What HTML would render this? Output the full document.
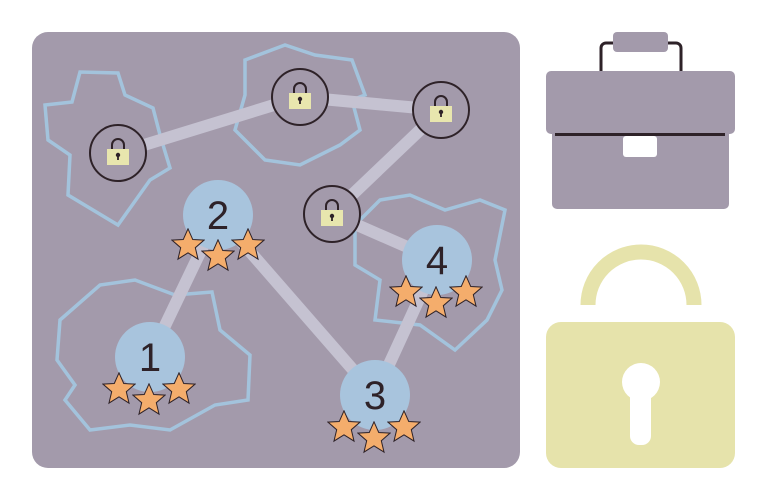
<!DOCTYPE html>
<html><head><style>html,body{margin:0;padding:0;background:#fff}svg{display:block}</style></head><body>
<svg width="767" height="500" viewBox="0 0 767 500" xmlns="http://www.w3.org/2000/svg">
<defs>
<symbol id="star" viewBox="-10 -10 20 20"><polygon points="0,-9.5 2.8,-3.2 9.5,-2.9 4.3,1.6 5.9,8.3 0,4.6 -5.9,8.3 -4.3,1.6 -9.5,-2.9 -2.8,-3.2" fill="#f4ad6c" stroke="#2e2228" stroke-width="0.6"/></symbol>
<g id="lk"><circle r="28" fill="#a39aab" stroke="#2e2228" stroke-width="2"/><path d="M-6,-4 v-4 a6,6 0 0 1 12,0 v4" fill="none" stroke="#2e2228" stroke-width="2"/><rect x="-11" y="-4" width="22" height="16" fill="#e8e6ae"/><circle cx="0" cy="2" r="2.2" fill="#2e2228"/><rect x="-0.9" y="2" width="1.8" height="5" fill="#2e2228"/></g>
</defs>
<rect x="32" y="32" width="488" height="436" rx="16" fill="#a39aab"/>
<g fill="none" stroke="#a3c3dc" stroke-width="3.5">
<polygon points="45,105 72,102 80,72 118,73 125,95 153,108 160,135 170,168 150,180 118,225 68,195 70,155 48,140"/>
<polygon points="245,60 285,45 315,55 352,60 365,95 352,100 360,130 340,145 300,165 265,160 235,130 245,95"/>
<polygon points="355,225 380,200 410,195 445,210 480,200 505,210 495,260 502,290 487,320 455,350 420,325 375,320 380,280 355,265"/>
<polygon points="60,320 100,285 135,280 175,295 212,292 220,330 250,355 248,400 215,405 170,430 130,425 90,430 65,400 75,385 57,360"/>
</g>
<g stroke="#c5c2d1" stroke-width="12" stroke-linecap="round">
<line x1="118" y1="153" x2="300" y2="97"/><line x1="300" y1="97" x2="441" y2="110"/><line x1="441" y1="110" x2="332" y2="214"/><line x1="332" y1="214" x2="437" y2="260"/>
<line x1="218" y1="215" x2="150" y2="357"/><line x1="218" y1="215" x2="375" y2="395"/><line x1="375" y1="395" x2="437" y2="260"/>
</g>
<use href="#lk" x="118" y="153"/><use href="#lk" x="300" y="97"/><use href="#lk" x="441" y="110"/><use href="#lk" x="332" y="214"/>
<g font-family="Liberation Sans, sans-serif" font-size="40" fill="#2e2228" text-anchor="middle">
<circle cx="218" cy="215" r="35" fill="#a8c4dd"/><text x="218" y="229">2</text>
<circle cx="437" cy="260" r="35" fill="#a8c4dd"/><text x="437" y="274">4</text>
<circle cx="150" cy="357" r="35" fill="#a8c4dd"/><text x="150" y="371">1</text>
<circle cx="375" cy="395" r="35" fill="#a8c4dd"/><text x="375" y="409">3</text>
</g>
<g>
<use href="#star" x="171" y="228" width="34" height="34"/><use href="#star" x="201" y="239" width="34" height="34"/><use href="#star" x="231" y="228" width="34" height="34"/>
<use href="#star" x="389" y="275" width="34" height="34"/><use href="#star" x="419" y="286" width="34" height="34"/><use href="#star" x="449" y="275" width="34" height="34"/>
<use href="#star" x="102" y="372" width="34" height="34"/><use href="#star" x="132" y="383" width="34" height="34"/><use href="#star" x="162" y="372" width="34" height="34"/>
<use href="#star" x="327" y="410" width="34" height="34"/><use href="#star" x="357" y="421" width="34" height="34"/><use href="#star" x="387" y="410" width="34" height="34"/>
</g>
<path d="M601,72 V48 a5,5 0 0 1 5,-5 H676 a5,5 0 0 1 5,5 V72" fill="none" stroke="#2e2228" stroke-width="3"/>
<rect x="613" y="32" width="55" height="20" rx="4" fill="#a39aab"/>
<rect x="552" y="120" width="177" height="89" rx="5" fill="#a39aab"/>
<rect x="546" y="71" width="189" height="63" rx="5" fill="#a39aab"/>
<rect x="555" y="133" width="170" height="3" fill="#2e2228"/>
<rect x="623" y="136" width="34" height="21" rx="3" fill="#fff"/>
<path d="M588,305 A53,53 0 0 1 694,305" fill="none" stroke="#e6e3ab" stroke-width="15"/>
<rect x="546" y="322" width="189" height="146" rx="15" fill="#e6e3ab"/>
<circle cx="641" cy="382" r="19" fill="#fff"/>
<rect x="630" y="385" width="21" height="60" rx="9" fill="#fff"/>
</svg>
</body></html>
